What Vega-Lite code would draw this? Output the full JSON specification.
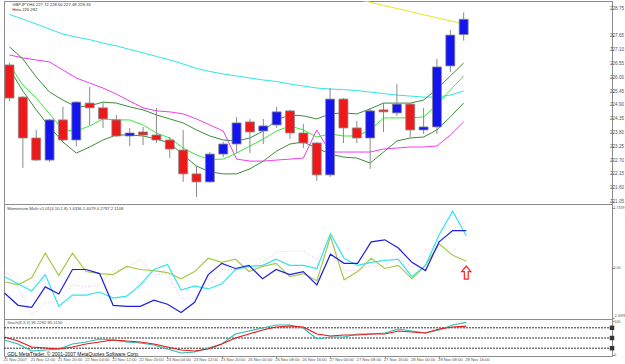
{
  "$schema": "https://vega.github.io/schema/vega-lite/v6.json",
  "background": "white",
  "bounds": "flush",
  "padding": {"left": 1, "top": 0, "right": -1, "bottom": 0},
  "config": {
    "view": {"stroke": "#8c8c8c", "strokeWidth": 1},
    "concat": {"spacing": 0},
    "axis": {"labels": false, "domain": false, "grid": false, "tickColor": "#888888", "tickSize": 2},
    "text": {"font": "Liberation Sans", "fontSize": 4.2}
  },
  "datasets": {
    "d": [
      {"i":0,"o":226.51,"h":226.59,"l":225.07,"c":225.19,"cy":228.52,"mg":226.91,"gu":227.23,"gm":226.51,"gl":226.35,"yl":null,"mb":-1.434,"mc":-0.824,"mo":-1.014,"mp":-0.556,"sk":44.1,"sd":52.9},
      {"i":1,"o":225.23,"h":225.27,"l":222.41,"c":223.60,"cy":228.34,"mg":226.79,"gu":226.75,"gm":225.71,"gl":225.47,"yl":null,"mb":-1.892,"mc":-1.091,"mo":-1.129,"mp":-1.205,"sk":32.4,"sd":41.2},
      {"i":2,"o":223.60,"h":223.92,"l":222.68,"c":222.72,"cy":228.14,"mg":226.71,"gu":226.03,"gm":225.19,"gl":224.72,"yl":null,"mb":-1.969,"mc":-1.358,"mo":-0.862,"mp":-2.274,"sk":11.8,"sd":23.5},
      {"i":3,"o":222.72,"h":224.36,"l":222.64,"c":224.32,"cy":227.94,"mg":226.63,"gu":225.43,"gm":224.56,"gl":224.04,"yl":null,"mb":-1.205,"mc":-0.747,"mo":0.054,"mp":-1.816,"sk":14.7,"sd":20.6},
      {"i":4,"o":224.32,"h":224.84,"l":223.48,"c":223.52,"cy":227.74,"mg":226.31,"gu":225.11,"gm":223.92,"gl":223.44,"yl":null,"mb":-1.472,"mc":-1.930,"mo":-0.785,"mp":-1.740,"sk":17.6,"sd":17.6},
      {"i":5,"o":223.52,"h":225.07,"l":223.28,"c":225.03,"cy":227.62,"mg":225.99,"gu":224.84,"gm":223.88,"gl":223.00,"yl":null,"mb":-0.556,"mc":-1.511,"mo":0.054,"mp":-1.129,"sk":32.4,"sd":23.5},
      {"i":6,"o":224.99,"h":225.63,"l":224.12,"c":224.80,"cy":227.52,"mg":225.79,"gu":224.88,"gm":224.08,"gl":223.24,"yl":null,"mb":-0.556,"mc":-1.511,"mo":-0.633,"mp":-1.205,"sk":38.2,"sd":32.4},
      {"i":7,"o":224.80,"h":225.03,"l":224.00,"c":224.36,"cy":227.38,"mg":225.59,"gu":225.03,"gm":224.36,"gl":223.52,"yl":null,"mb":-0.709,"mc":-1.396,"mo":-0.709,"mp":-1.129,"sk":47.1,"sd":38.2},
      {"i":8,"o":224.32,"h":224.52,"l":223.64,"c":223.68,"cy":227.27,"mg":225.35,"gu":224.99,"gm":224.32,"gl":223.72,"yl":null,"mb":-1.892,"mc":-1.625,"mo":-0.747,"mp":-0.595,"sk":44.1,"sd":44.1},
      {"i":9,"o":223.68,"h":224.00,"l":223.28,"c":223.80,"cy":227.13,"mg":225.07,"gu":224.84,"gm":224.32,"gl":223.72,"yl":null,"mb":-1.930,"mc":-1.549,"mo":-0.442,"mp":-0.518,"sk":38.2,"sd":41.2},
      {"i":10,"o":223.84,"h":224.04,"l":223.32,"c":223.72,"cy":226.99,"mg":224.80,"gu":224.72,"gm":224.12,"gl":223.68,"yl":null,"mb":-1.930,"mc":-1.129,"mo":-0.556,"mp":-0.175,"sk":35.3,"sd":38.2},
      {"i":11,"o":223.72,"h":224.80,"l":223.40,"c":223.52,"cy":226.85,"mg":224.68,"gu":224.52,"gm":223.80,"gl":223.56,"yl":null,"mb":-1.701,"mc":-0.556,"mo":-0.595,"mp":-0.747,"sk":29.4,"sd":32.4},
      {"i":12,"o":223.52,"h":223.64,"l":222.80,"c":223.16,"cy":226.71,"mg":224.64,"gu":224.36,"gm":223.60,"gl":223.40,"yl":null,"mb":-1.854,"mc":-0.366,"mo":-0.671,"mp":-0.709,"sk":17.6,"sd":23.5},
      {"i":13,"o":223.12,"h":223.92,"l":221.85,"c":222.17,"cy":226.55,"mg":224.56,"gu":224.20,"gm":223.20,"gl":222.92,"yl":null,"mb":-2.160,"mc":-1.320,"mo":-0.900,"mp":-1.625,"sk":5.9,"sd":14.7},
      {"i":14,"o":222.17,"h":222.48,"l":221.25,"c":221.85,"cy":226.37,"mg":224.36,"gu":223.92,"gm":222.92,"gl":222.48,"yl":null,"mb":-1.778,"mc":-1.167,"mo":-0.633,"mp":-1.625,"sk":8.8,"sd":11.8},
      {"i":15,"o":221.85,"h":223.04,"l":221.81,"c":222.96,"cy":226.25,"mg":224.12,"gu":223.68,"gm":222.74,"gl":222.25,"yl":null,"mb":-0.747,"mc":-1.282,"mo":-0.137,"mp":-1.167,"sk":20.6,"sd":17.6},
      {"i":16,"o":222.96,"h":223.44,"l":222.84,"c":223.36,"cy":226.15,"mg":223.88,"gu":223.52,"gm":222.76,"gl":222.17,"yl":null,"mb":-0.327,"mc":-1.091,"mo":-0.289,"mp":-0.556,"sk":32.4,"sd":32.4},
      {"i":17,"o":223.36,"h":224.44,"l":223.00,"c":224.20,"cy":226.07,"mg":222.76,"gu":223.48,"gm":223.00,"gl":222.17,"yl":null,"mb":-0.518,"mc":-0.556,"mo":-0.175,"mp":-0.556,"sk":61.8,"sd":50.0},
      {"i":18,"o":224.24,"h":224.36,"l":223.00,"c":223.84,"cy":225.99,"mg":222.68,"gu":223.60,"gm":223.28,"gl":222.37,"yl":null,"mb":-0.404,"mc":-0.442,"mo":-0.633,"mp":-0.480,"sk":70.6,"sd":61.8},
      {"i":19,"o":223.88,"h":224.36,"l":223.36,"c":224.08,"cy":225.91,"mg":222.68,"gu":223.88,"gm":223.56,"gl":222.68,"yl":null,"mb":-0.900,"mc":-0.404,"mo":-0.442,"mp":-0.289,"sk":79.4,"sd":73.5},
      {"i":20,"o":224.12,"h":224.84,"l":224.00,"c":224.64,"cy":225.85,"mg":222.72,"gu":224.32,"gm":223.88,"gl":223.08,"yl":null,"mb":-0.556,"mc":-0.175,"mo":-0.327,"mp":0.092,"sk":88.2,"sd":82.4},
      {"i":21,"o":224.68,"h":224.72,"l":223.56,"c":223.80,"cy":225.75,"mg":222.76,"gu":224.52,"gm":224.08,"gl":223.36,"yl":null,"mb":-0.747,"mc":-0.404,"mo":-0.824,"mp":0.131,"sk":88.2,"sd":85.3},
      {"i":22,"o":223.80,"h":224.16,"l":223.20,"c":223.40,"cy":225.67,"mg":222.80,"gu":224.48,"gm":223.92,"gl":223.44,"yl":null,"mb":-0.633,"mc":-0.404,"mo":-0.709,"mp":0.131,"sk":79.4,"sd":82.4},
      {"i":23,"o":223.40,"h":223.44,"l":221.89,"c":222.13,"cy":225.59,"mg":223.92,"gu":224.36,"gm":223.64,"gl":223.20,"yl":null,"mb":-1.129,"mc":-0.518,"mo":-0.976,"mp":-0.175,"sk":47.1,"sd":61.8},
      {"i":24,"o":222.13,"h":225.59,"l":222.05,"c":225.15,"cy":225.55,"mg":223.04,"gu":224.56,"gm":223.76,"gl":222.96,"yl":null,"mb":0.016,"mc":0.780,"mo":0.665,"mp":0.665,"sk":52.9,"sd":55.9},
      {"i":25,"o":225.15,"h":225.19,"l":223.40,"c":224.00,"cy":225.53,"mg":223.04,"gu":224.60,"gm":223.68,"gl":222.84,"yl":229.26,"mb":-0.327,"mc":-0.137,"mo":-0.938,"mp":-0.595,"sk":52.9,"sd":58.8},
      {"i":26,"o":224.00,"h":224.28,"l":223.40,"c":223.60,"cy":225.49,"mg":223.04,"gu":224.56,"gm":223.68,"gl":222.80,"yl":229.13,"mb":-0.327,"mc":-0.404,"mo":-0.633,"mp":-0.595,"sk":61.8,"sd":58.8},
      {"i":27,"o":223.60,"h":224.80,"l":222.37,"c":224.68,"cy":225.43,"mg":223.04,"gu":224.76,"gm":223.92,"gl":222.60,"yl":229.01,"mb":0.474,"mc":-0.289,"mo":-0.137,"mp":-0.404,"sk":61.8,"sd":61.8},
      {"i":28,"o":224.72,"h":224.99,"l":223.84,"c":224.64,"cy":225.37,"mg":223.16,"gu":224.99,"gm":224.40,"gl":223.04,"yl":228.88,"mb":0.551,"mc":-0.213,"mo":-0.518,"mp":-0.404,"sk":64.7,"sd":61.8},
      {"i":29,"o":224.60,"h":225.75,"l":224.48,"c":224.95,"cy":225.31,"mg":223.20,"gu":224.99,"gm":224.40,"gl":223.48,"yl":228.76,"mb":0.245,"mc":-0.175,"mo":-0.404,"mp":-0.098,"sk":76.5,"sd":70.6},
      {"i":30,"o":224.95,"h":224.99,"l":223.64,"c":223.92,"cy":225.27,"mg":223.24,"gu":224.99,"gm":224.40,"gl":223.60,"yl":228.64,"mb":-0.289,"mc":-0.824,"mo":-0.900,"mp":-0.480,"sk":70.6,"sd":67.6},
      {"i":31,"o":223.92,"h":224.80,"l":223.76,"c":224.04,"cy":225.23,"mg":223.24,"gu":225.11,"gm":224.44,"gl":223.64,"yl":228.51,"mb":-0.595,"mc":-0.404,"mo":-0.404,"mp":0.169,"sk":64.7,"sd":64.7},
      {"i":32,"o":224.04,"h":226.75,"l":223.76,"c":226.43,"cy":225.23,"mg":223.28,"gu":225.55,"gm":224.92,"gl":223.92,"yl":228.39,"mb":0.474,"mc":0.741,"mo":0.398,"mp":0.283,"sk":73.5,"sd":76.5},
      {"i":33,"o":226.47,"h":227.90,"l":226.23,"c":227.70,"cy":225.31,"mg":223.72,"gu":226.07,"gm":225.51,"gl":224.44,"yl":228.27,"mb":0.894,"mc":1.619,"mo":-0.022,"mp":0.932,"sk":88.2,"sd":82.4},
      {"i":34,"o":227.72,"h":228.60,"l":227.48,"c":228.33,"cy":225.47,"mg":224.24,"gu":226.59,"gm":226.07,"gl":224.99,"yl":228.14,"mb":0.894,"mc":0.703,"mo":-0.251,"mp":1.276,"sk":96.23,"sd":85.12}
    ],
    "mainText": [
      {"i":0.2,"p":228.90,"t":"GBPJPY,H4  227.72 228.60 227.48 228.33"},
      {"i":0.2,"p":228.70,"t":"Hma 226.282"}
    ],
    "mainAxis": [
      {"p":221.05,"t":"221.05"},{"p":221.60,"t":"221.60"},{"p":222.15,"t":"222.15"},{"p":222.70,"t":"222.70"},
      {"p":223.25,"t":"223.25"},{"p":223.80,"t":"223.80"},{"p":224.35,"t":"224.35"},{"p":224.90,"t":"224.90"},
      {"p":225.45,"t":"225.45"},{"p":226.00,"t":"226.00"},{"p":226.55,"t":"226.55"},{"p":227.10,"t":"227.10"},
      {"p":227.65,"t":"227.65"},{"p":228.75,"t":"228.75"}
    ],
    "momText": [
      {"i":0.2,"v":1.69,"t":"Momentum-Multi v1.01(4,10,1.8) 1.6336 1.4079 0.2797 2.1108"}
    ],
    "momAxis": [
      {"v":1.7339,"t":"1.7339"},{"v":-0.518,"t":"0.00"},{"v":-2.28,"t":"-2.3498"}
    ],
    "stoText": [
      {"i":0.2,"v":94,"t":"Stoch(8,3,3) 96.2282 85.1150"}
    ],
    "copyText": [
      {"i":0.2,"v":3,"t":"GDL MetaTrader, © 2001-2007 MetaQuotes Software Corp."}
    ],
    "stoAxis": [
      {"v":97,"t":"100"},{"v":0,"t":"0"}
    ],
    "timeAxis": [
      {"i":0,"t":"21 Nov 2007"},{"i":2,"t":"21 Nov 12:00"},{"i":4,"t":"21 Nov 20:00"},{"i":6,"t":"22 Nov 04:00"},
      {"i":8,"t":"22 Nov 12:00"},{"i":10,"t":"22 Nov 20:00"},{"i":12,"t":"23 Nov 04:00"},{"i":14,"t":"23 Nov 12:00"},
      {"i":16,"t":"23 Nov 20:00"},{"i":18,"t":"26 Nov 00:00"},{"i":20,"t":"26 Nov 08:00"},{"i":22,"t":"26 Nov 16:00"},
      {"i":24,"t":"27 Nov 00:00"},{"i":26,"t":"27 Nov 08:00"},{"i":28,"t":"27 Nov 16:00"},{"i":30,"t":"28 Nov 00:00"},
      {"i":32,"t":"28 Nov 08:00"},{"i":34,"t":"28 Nov 16:00"}
    ],
    "arrow": [{"i":34,"v":-0.67}]
  },
  "vconcat": [
    {
      "width": 608,
      "height": 203,
      "layer": [
        {"mark": {"type": "rule", "color": "#a8a8a8", "strokeWidth": 1}, "encoding": {"y": {"datum": 228.33}}},
        {"mark": {"type": "rule", "color": "#90ee90", "strokeWidth": 1, "strokeDash": [6, 2, 1, 2]}, "encoding": {"y": {"datum": 224.52}}},
        {
          "data": {"name": "d"},
          "transform": [{"fold": ["cy", "mg", "gu", "gm", "gl", "yl"], "as": ["s", "v"]}],
          "mark": {"type": "line", "strokeWidth": 1, "clip": true},
          "encoding": {
            "x": {"field": "i", "type": "quantitative", "scale": {"domain": [-0.037, 44.73], "nice": false, "zero": false}, "axis": null},
            "y": {"field": "v", "type": "quantitative", "scale": {"domain": [220.970, 229.058], "nice": false, "zero": false},
                  "axis": {"orient": "right", "title": null, "values": [221.05, 221.60, 222.15, 222.70, 223.25, 223.80, 224.35, 224.90, 225.45, 226.00, 226.55, 227.10, 227.65, 228.75]}},
            "color": {"field": "s", "type": "nominal", "legend": null,
                      "scale": {"domain": ["cy", "mg", "gu", "gm", "gl", "yl"], "range": ["#2ee6e6", "#f03cf0", "#3c8c3c", "#3ce63c", "#3c8c3c", "#e8e81e"]}},
            "detail": {"field": "s"}
          }
        },
        {
          "data": {"name": "d"},
          "mark": {"type": "rule", "color": "#8a8a8a", "strokeWidth": 1, "clip": true},
          "encoding": {"x": {"field": "i", "type": "quantitative"}, "y": {"field": "l", "type": "quantitative"}, "y2": {"field": "h"}}
        },
        {
          "data": {"name": "d"},
          "mark": {"type": "bar", "width": 9, "stroke": "#8a8a8a", "strokeWidth": 0.8, "clip": true},
          "encoding": {
            "x": {"field": "i", "type": "quantitative"},
            "y": {"field": "o", "type": "quantitative"},
            "y2": {"field": "c"},
            "fill": {"condition": {"test": "datum.c >= datum.o", "value": "#1414ee"}, "value": "#ee1a1a"},
            "opacity": {"value": 1}
          }
        },
        {
          "data": {"name": "mainText"},
          "mark": {"type": "text", "align": "left", "baseline": "middle", "color": "#333333"},
          "encoding": {"x": {"field": "i", "type": "quantitative"}, "y": {"field": "p", "type": "quantitative"}, "text": {"field": "t"}}
        },
        {
          "data": {"name": "mainAxis"},
          "mark": {"type": "text", "align": "left", "baseline": "middle", "color": "#555555", "dx": 3, "clip": false, "fontSize": 4.6},
          "encoding": {"x": {"datum": 44.73}, "y": {"field": "p", "type": "quantitative"}, "text": {"field": "t"}}
        },
        {
          "mark": {"type": "rect", "color": "#0a0a50", "clip": false},
          "encoding": {"x": {"datum": 44.73}, "x2": {"datum": 45.95}, "y": {"datum": 228.47}, "y2": {"datum": 228.19}}
        },
        {
          "mark": {"type": "text", "align": "left", "baseline": "middle", "color": "white", "dx": 3, "clip": false, "fontSize": 4.6},
          "encoding": {"x": {"datum": 44.73}, "y": {"datum": 228.33}, "text": {"value": "228.33"}}
        }
      ]
    },
    {
      "width": 608,
      "height": 115,
      "layer": [
        {"mark": {"type": "rule", "color": "#6e6e6e", "strokeWidth": 1}, "encoding": {"y": {"datum": -0.518}}},
        {
          "data": {"name": "d"},
          "mark": {"type": "line", "color": "#f2b8e6", "strokeWidth": 1, "strokeDash": [1, 2]},
          "encoding": {
            "x": {"field": "i", "type": "quantitative", "scale": {"domain": [-0.037, 44.73], "nice": false, "zero": false}, "axis": null},
            "y": {"field": "mp", "type": "quantitative", "scale": {"domain": [-2.4026, 1.8866], "nice": false, "zero": false},
                  "axis": {"orient": "right", "title": null, "values": [1.7339, -0.518, -2.3498]}}
          }
        },
        {
          "data": {"name": "d"},
          "mark": {"type": "line", "color": "#a8c84a", "strokeWidth": 1.2},
          "encoding": {"x": {"field": "i", "type": "quantitative"}, "y": {"field": "mo", "type": "quantitative"}}
        },
        {
          "data": {"name": "d"},
          "mark": {"type": "line", "color": "#30e4ee", "strokeWidth": 1.2},
          "encoding": {"x": {"field": "i", "type": "quantitative"}, "y": {"field": "mc", "type": "quantitative"}}
        },
        {
          "data": {"name": "d"},
          "mark": {"type": "line", "color": "#2020dc", "strokeWidth": 1.2},
          "encoding": {"x": {"field": "i", "type": "quantitative"}, "y": {"field": "mb", "type": "quantitative"}}
        },
        {
          "data": {"name": "arrow"},
          "mark": {"type": "point", "shape": "M0,-1L0.7,-0.15L0.3,-0.15L0.3,1L-0.3,1L-0.3,-0.15L-0.7,-0.15Z", "filled": false, "stroke": "#ff2020", "strokeWidth": 1.2, "size": 169, "opacity": 1},
          "encoding": {"x": {"field": "i", "type": "quantitative"}, "y": {"field": "v", "type": "quantitative"}}
        },
        {
          "mark": {"type": "square", "color": "#333333", "size": 20, "clip": false, "opacity": 1},
          "encoding": {"x": {"datum": 44.73}, "y": {"datum": -0.518}}
        },
        {
          "data": {"name": "momText"},
          "mark": {"type": "text", "align": "left", "baseline": "middle", "color": "#444444"},
          "encoding": {"x": {"field": "i", "type": "quantitative"}, "y": {"field": "v", "type": "quantitative"}, "text": {"field": "t"}}
        },
        {
          "data": {"name": "momAxis"},
          "mark": {"type": "text", "align": "left", "baseline": "middle", "color": "#555555", "dx": 1.5, "clip": false, "fontSize": 3.6},
          "encoding": {"x": {"datum": 44.73}, "y": {"field": "v", "type": "quantitative"}, "text": {"field": "t"}}
        }
      ]
    },
    {
      "width": 608,
      "height": 37,
      "layer": [
        {
          "data": {"values": [{"lv": 80}, {"lv": 50}, {"lv": 20}]},
          "mark": {"type": "rule", "color": "#303030", "strokeWidth": 1, "strokeDash": [2, 1]},
          "encoding": {"y": {"field": "lv", "type": "quantitative", "scale": {"domain": [-2.94, 105.9], "nice": false, "zero": false}}}
        },
        {
          "data": {"values": [{"lv": 80}, {"lv": 50}, {"lv": 20}]},
          "mark": {"type": "square", "color": "#333333", "size": 20, "clip": false, "opacity": 1},
          "encoding": {"x": {"datum": 44.73}, "y": {"field": "lv", "type": "quantitative"}}
        },
        {
          "data": {"name": "d"},
          "mark": {"type": "line", "color": "#2cbcb0", "strokeWidth": 1.2},
          "encoding": {
            "x": {"field": "i", "type": "quantitative", "scale": {"domain": [-0.037, 44.73], "nice": false, "zero": false},
                  "axis": {"orient": "bottom", "title": null, "values": [0,2,4,6,8,10,12,14,16,18,20,22,24,26,28,30,32,34]}},
            "y": {"field": "sk", "type": "quantitative", "axis": {"orient": "right", "title": null, "values": [0, 100]}}
          }
        },
        {
          "data": {"name": "d"},
          "mark": {"type": "line", "color": "#ee1414", "strokeWidth": 1.2},
          "encoding": {"x": {"field": "i", "type": "quantitative"}, "y": {"field": "sd", "type": "quantitative"}}
        },
        {
          "data": {"name": "stoText"},
          "mark": {"type": "text", "align": "left", "baseline": "middle", "color": "#555555", "clip": false},
          "encoding": {"x": {"field": "i", "type": "quantitative"}, "y": {"field": "v", "type": "quantitative"}, "text": {"field": "t"}}
        },
        {
          "data": {"name": "copyText"},
          "mark": {"type": "text", "align": "left", "baseline": "middle", "color": "#111111", "clip": false, "fontSize": 5},
          "encoding": {"x": {"field": "i", "type": "quantitative"}, "y": {"field": "v", "type": "quantitative"}, "text": {"field": "t"}}
        },
        {
          "data": {"name": "stoAxis"},
          "mark": {"type": "text", "align": "left", "baseline": "middle", "color": "#555555", "dx": 2, "clip": false, "fontSize": 3.9},
          "encoding": {"x": {"datum": 44.73}, "y": {"field": "v", "type": "quantitative"}, "text": {"field": "t"}}
        },
        {
          "data": {"name": "timeAxis"},
          "mark": {"type": "text", "align": "left", "baseline": "middle", "color": "#555555", "dx": -1, "clip": false, "fontSize": 4.1},
          "encoding": {"x": {"field": "i", "type": "quantitative"}, "y": {"datum": -14.5}, "text": {"field": "t"}}
        }
      ]
    }
  ]
}
